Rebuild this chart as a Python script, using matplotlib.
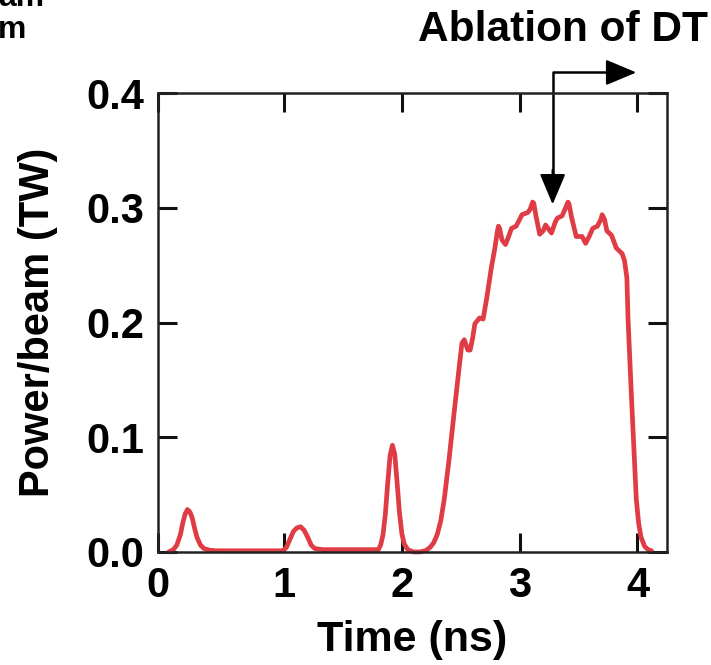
import matplotlib
matplotlib.use("Agg")
import matplotlib.pyplot as plt

plt.rcParams['font.family'] = ['Liberation Sans', 'DejaVu Sans']
plt.rcParams['font.weight'] = 'bold'

# laser pulse shape (time in ns, power per beam in TW)
time_ns = [0.02, 0.06, 0.09, 0.12, 0.14, 0.16, 0.18, 0.20, 0.22, 0.24,
           0.26, 0.29, 0.32, 0.37, 0.43, 0.70, 0.99, 1.02, 1.05, 1.08,
           1.11, 1.14, 1.17, 1.20, 1.23, 1.26, 1.33, 1.60, 1.80, 1.82,
           1.84, 1.86, 1.88, 1.90, 1.92, 1.94, 1.96, 1.98, 2.00, 2.02,
           2.05, 2.10, 2.15, 2.20, 2.24, 2.27, 2.30, 2.33, 2.36, 2.40,
           2.44, 2.48, 2.51, 2.53, 2.56, 2.58, 2.60, 2.62, 2.66, 2.69,
           2.72, 2.76, 2.79, 2.81, 2.82, 2.83, 2.85, 2.88, 2.91, 2.93,
           2.97, 3.00, 3.02, 3.07, 3.09, 3.11, 3.12, 3.14, 3.17, 3.20,
           3.22, 3.27, 3.30, 3.32, 3.36, 3.39, 3.41, 3.42, 3.44, 3.48,
           3.53, 3.56, 3.59, 3.62, 3.66, 3.69, 3.70, 3.72, 3.74, 3.78,
           3.82, 3.87, 3.89, 3.91, 3.92, 3.95, 3.99, 4.01, 4.03, 4.06,
           4.09, 4.12]
power_tw = [0.000, 0.002, 0.006, 0.015, 0.025, 0.033, 0.037, 0.035, 0.030, 0.021,
            0.013, 0.006, 0.003, 0.0015, 0.001, 0.001, 0.001, 0.004, 0.011, 0.018,
            0.021, 0.022, 0.019, 0.013, 0.006, 0.003, 0.002, 0.002, 0.002, 0.006,
            0.015, 0.033, 0.060, 0.084, 0.093, 0.085, 0.060, 0.034, 0.016, 0.007,
            0.002, 0.000, 0.000, 0.001, 0.004, 0.008, 0.015, 0.027, 0.046, 0.080,
            0.118, 0.155, 0.182, 0.185, 0.176, 0.176, 0.186, 0.199, 0.204, 0.203,
            0.221, 0.248, 0.265, 0.279, 0.284, 0.282, 0.272, 0.268, 0.276, 0.282,
            0.284, 0.290, 0.294, 0.296, 0.299, 0.305, 0.304, 0.292, 0.277, 0.280,
            0.285, 0.278, 0.287, 0.291, 0.293, 0.300, 0.305, 0.303, 0.292, 0.275,
            0.275, 0.269, 0.275, 0.282, 0.284, 0.290, 0.294, 0.290, 0.280, 0.276,
            0.265, 0.260, 0.254, 0.239, 0.203, 0.133, 0.046, 0.025, 0.013, 0.005,
            0.002, 0.001]

x_ticks = [1, 2, 3, 4]
x_tick_labels = ['0', '1', '2', '3', '4']
y_ticks = [0.0, 0.1, 0.2, 0.3, 0.4]
y_tick_labels = ['0.0', '0.1', '0.2', '0.3', '0.4']

x_min, x_max = -0.07, 4.25

fig = plt.figure(figsize=(7.11, 6.65), dpi=100)
ax = fig.add_axes([0.2222, 0.170, 0.7158, 0.690])

ax.plot(time_ns, power_tw, color='#e03c45', lw=3.4, solid_joinstyle='round',
        solid_capstyle='round', clip_on=False)

ax.set_xlim(x_min, x_max)
ax.set_ylim(0, 0.4)
ax.set_xticks([x_min] + x_ticks)
ax.set_xticklabels(x_tick_labels)
ax.set_yticks(y_ticks)
ax.set_yticklabels(y_tick_labels)
ax.tick_params(direction='in', length=14, width=2.2, top=True, right=True,
               labelsize=30, pad=10, color='#111111')
ax.tick_params(axis='x', pad=10)
for s in ax.spines.values():
    s.set_linewidth(1.8)
    s.set_color('#222222')

ax.set_xlabel('Time (ns)', fontsize=31, fontweight='bold', labelpad=10)
ax.set_ylabel('Power/beam (TW)', fontsize=30, fontweight='bold', labelpad=20)

# bent arrow marking the DT ablation phase
arrow_x, arrow_top, arrow_tip, arrow_end = 3.28, 0.418, 0.303, 3.99
ax.plot([arrow_x, arrow_x, arrow_end - 0.15], [arrow_tip + 0.02, arrow_top, arrow_top],
        color='black', lw=1.8, clip_on=False)
head = dict(arrowstyle='-|>,head_length=1.9,head_width=0.8', color='black',
            lw=1.6, shrinkA=0, shrinkB=0, mutation_scale=10)
ax.annotate('', xy=(arrow_x, arrow_tip), xytext=(arrow_x, arrow_tip + 0.03),
            arrowprops=head, annotation_clip=False)
ax.annotate('', xy=(arrow_end, arrow_top), xytext=(arrow_end - 0.25, arrow_top),
            arrowprops=head, annotation_clip=False)

fig.text(708 / 711, 1 - 30 / 665, 'Ablation of DT', ha='right', va='center',
         fontsize=30.5, fontweight='bold')

# clipped leftovers of a neighbouring panel label
fig.text(-2 / 711, 1 - 6 / 665, 'am', ha='left', va='baseline', fontsize=23, fontweight='bold')
fig.text(-2 / 711, 1 - 38 / 665, 'm', ha='left', va='baseline', fontsize=23, fontweight='bold')

fig.savefig('out.png', dpi=100)
